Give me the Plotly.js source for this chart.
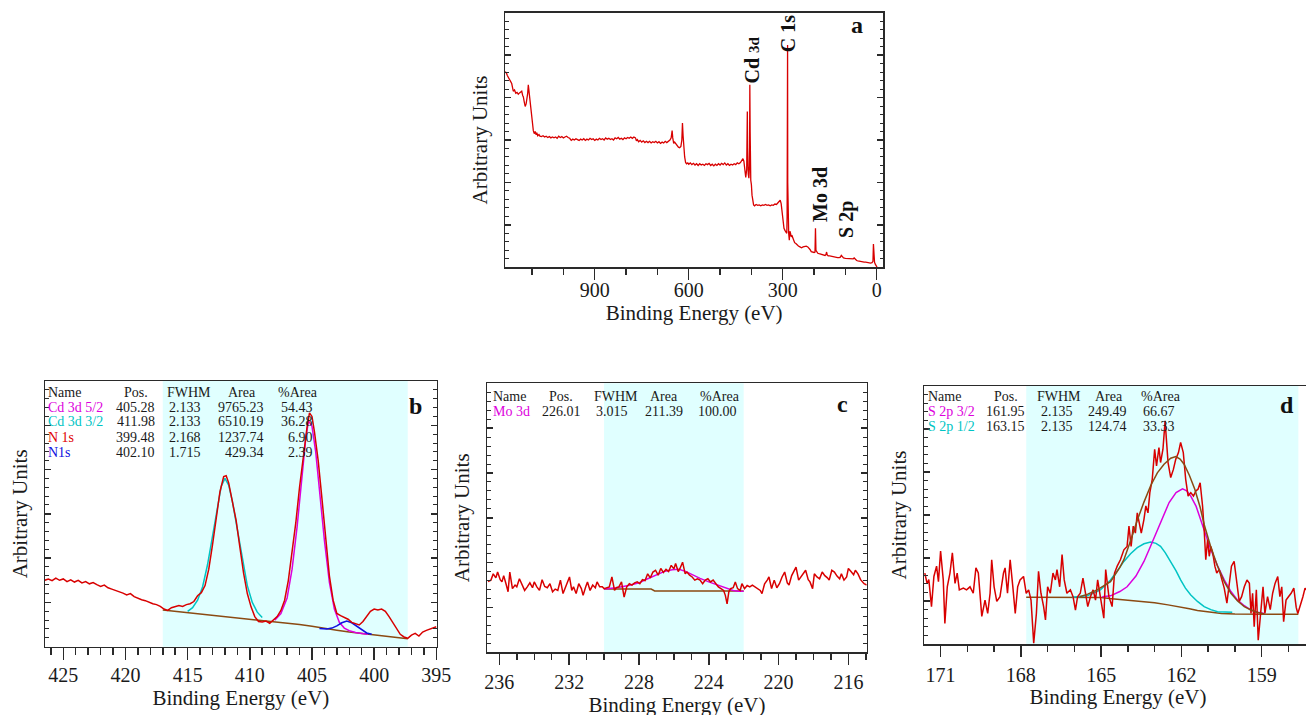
<!DOCTYPE html>
<html>
<head>
<meta charset="utf-8">
<script src="https://cdn.plot.ly/plotly-3.0.1.min.js"></script>
<style>
html,body{margin:0;padding:0;overflow:hidden;background:#fff;width:1306px;height:715px;}
#chart{width:1320px;height:730px;}
</style>
</head>
<body>
<div id="chart"></div>
<script>
// ---------------- DATA ----------------
// (a) survey spectrum
const surveyEnergy = [1186,1182,1179,1175,1170,1165,1160,1156,1152,1148,1144,1140,1136,1133,1130,1128,1125,1122,1119,1117,1114,1112,1110,1107,1104,1101,1098,1096,1093,1090,1087,1085,1082,1078,1075,1070,1065,1060,1055,1050,1045,1040,1035,1030,1025,1020,1015,1010,1005,1000,995,990,985,980,975,970,965,960,955,950,945,940,935,930,925,920,915,910,905,900,895,890,885,880,875,870,865,860,855,850,845,840,835,830,825,820,815,810,805,800,795,790,785,780,775,770,767,764,760,755,750,745,740,735,730,725,720,715,710,705,700,695,690,685,680,675,670,665,660,656,653,651,648,645,641,637,633,629,625,622,620,618,616,613,610,607,603,600,595,590,585,580,575,570,565,560,555,550,545,540,535,530,525,520,515,510,505,500,495,490,485,480,475,470,465,460,455,450,445,440,435,431,427,424,421,418,415,414,413,412,410,408,406,405,404,402,400,398,396,393,390,385,380,375,370,365,360,355,350,345,340,335,330,325,320,315,311,308,305,302,299,296,293,290,287,286,285,284.5,284,283,281,279,277,275,273,270,266,262,258,254,250,245,240,235,230,225,220,216,213,209,205,200,197,195.5,194,192,188,184,180,175,170,165,162,160,158,155,150,145,140,135,130,125,120,116,113,110,106,100,95,90,85,80,75,72,68,64,60,55,50,45,40,35,30,25,20,15,12,10.5,9,7,5,3,1,-1];
const surveyCounts = [4.61,4.58,4.52,4.48,4.40,4.33,4.15,4.18,4.10,4.12,4.08,4.11,4.13,4.15,4.05,4.02,3.90,3.79,3.85,3.94,4.10,4.30,4.15,4.03,3.80,3.55,3.30,3.22,3.15,3.20,3.12,3.17,3.10,3.13,3.09,3.08,3.10,3.07,3.09,3.06,3.08,3.05,3.07,3.05,3.07,3.04,3.09,3.06,3.08,3.05,3.07,3.09,3.06,3.04,2.99,3.02,3.00,3.03,3.01,2.99,3.02,3.00,3.03,2.99,3.02,3.00,3.04,3.01,3.03,2.99,3.02,3.00,3.04,3.01,3.03,3.00,3.05,3.02,3.04,3.01,3.03,3.00,3.05,3.03,3.06,3.02,3.04,3.01,3.05,3.03,3.06,3.04,3.07,3.04,3.07,3.05,2.98,3.01,2.96,2.99,2.95,2.98,2.94,2.97,2.94,2.97,2.93,2.96,2.94,2.97,2.93,2.96,2.92,2.95,2.93,2.97,2.94,2.97,3.00,3.05,3.22,3.05,2.92,2.95,2.90,2.86,2.83,2.82,2.85,3.00,3.40,3.10,2.80,2.60,2.47,2.44,2.46,2.43,2.46,2.42,2.45,2.41,2.44,2.40,2.44,2.41,2.43,2.40,2.44,2.42,2.45,2.40,2.43,2.39,2.43,2.40,2.44,2.41,2.45,2.42,2.46,2.41,2.44,2.40,2.43,2.41,2.44,2.42,2.46,2.44,2.47,2.52,2.56,2.50,2.30,2.12,2.30,3.00,3.67,2.80,2.20,2.10,2.40,4.30,3.20,2.05,1.95,1.70,1.55,1.47,1.45,1.48,1.46,1.47,1.45,1.47,1.46,1.48,1.46,1.47,1.45,1.47,1.46,1.49,1.48,1.52,1.56,1.58,1.50,1.30,1.05,0.92,0.87,0.82,0.80,1.20,2.37,5.24,2.00,1.00,0.80,0.64,0.85,0.80,0.72,0.74,0.65,0.58,0.56,0.52,0.50,0.48,0.46,0.48,0.49,0.50,0.48,0.45,0.42,0.37,0.36,0.35,0.36,0.92,0.40,0.36,0.33,0.32,0.31,0.30,0.29,0.28,0.30,0.36,0.29,0.27,0.27,0.26,0.25,0.25,0.24,0.23,0.23,0.24,0.28,0.26,0.22,0.21,0.21,0.20,0.20,0.20,0.20,0.22,0.18,0.16,0.15,0.14,0.13,0.13,0.12,0.12,0.11,0.11,0.10,0.11,0.14,0.55,0.25,0.12,0.08,0.05,0.02,0.00];
const surveyPeakNames = ['Cd <span style="font-size:15px">3d</span>','C 1s','Mo 3d','S 2p'];
const surveyPeakEnergy = [399, 282, 179, 96];
const surveyPeakLevel = [4.89, 5.50, 1.72, 1.13];

// (b) Cd 3d / N 1s region
const cdEnergy = [426.5,426.2,425.9,425.6,425.3,425.0,424.7,424.4,424.1,423.8,423.5,423.2,422.9,422.6,422.3,422.0,421.7,421.4,421.1,420.8,420.5,420.2,419.9,419.6,419.3,419.0,418.7,418.4,418.1,417.8,417.5,417.2,416.9,416.6,416.3,416.0,415.7,415.4,415.1,414.8,414.5,414.2,413.9,413.6,413.3,413.0,412.7,412.4,412.1,411.9,411.7,411.4,411.1,410.8,410.5,410.2,409.9,409.6,409.3,409.0,408.7,408.4,408.1,407.8,407.5,407.2,406.9,406.6,406.3,406.0,405.7,405.4,405.2,405.0,404.8,404.5,404.2,403.9,403.6,403.3,403.0,402.7,402.4,402.1,401.8,401.5,401.2,400.9,400.6,400.3,400.0,399.7,399.4,399.1,398.8,398.5,398.2,397.9,397.6,397.3,397.0,396.7,396.4,396.1,395.8,395.5,395.2,395.0];
const cdCounts = [1.50,1.53,1.49,1.55,1.50,1.53,1.47,1.51,1.46,1.50,1.44,1.47,1.42,1.45,1.40,1.36,1.39,1.33,1.30,1.27,1.25,1.21,1.17,1.20,1.13,1.09,1.06,1.04,1.00,0.97,0.95,0.91,0.85,0.82,0.88,0.90,0.93,0.91,0.95,0.97,1.02,1.15,1.22,1.38,1.75,2.30,2.95,3.50,3.84,3.86,3.70,3.30,2.85,2.25,1.66,1.20,0.90,0.68,0.57,0.56,0.58,0.53,0.60,0.68,0.82,1.05,1.50,2.10,2.80,3.60,4.30,4.95,5.28,5.20,4.85,4.20,3.35,2.50,1.60,1.05,0.75,0.70,0.66,0.62,0.55,0.52,0.49,0.57,0.68,0.80,0.85,0.83,0.85,0.80,0.68,0.55,0.40,0.28,0.22,0.19,0.26,0.30,0.24,0.33,0.37,0.40,0.44,0.45];
const cdBgEnergy = [417,416,415,414,413,412,411,410,409,408,407,406,405,404,403,402,401,400,399,398,397.3];
const cdBgCounts = [0.83,0.80,0.77,0.74,0.71,0.68,0.65,0.62,0.59,0.57,0.54,0.50,0.46,0.41,0.37,0.33,0.30,0.27,0.24,0.20,0.18];
const cd32Energy = [415.0,414.6,414.2,413.8,413.4,413.0,412.6,412.3,412.0,411.7,411.4,411.0,410.6,410.2,409.8,409.4,409.0];
const cd32Counts = [0.80,0.88,1.05,1.35,1.85,2.50,3.20,3.62,3.80,3.65,3.28,2.62,1.95,1.38,1.00,0.78,0.66];
const cd52Energy = [408.0,407.5,407.0,406.6,406.2,405.8,405.5,405.28,405.0,404.7,404.4,404.0,403.6,403.2,402.8,402.4,402.0,401.5,401.0,400.5];
const cd52Counts = [0.60,0.75,1.10,1.75,2.70,3.85,4.70,5.10,4.98,4.40,3.55,2.40,1.45,0.85,0.55,0.42,0.36,0.32,0.30,0.28];
const n1sEnergy = [404.4,403.8,403.4,403.0,402.6,402.2,401.8,401.4,401.0,400.6,400.2];
const n1sCounts = [0.41,0.40,0.42,0.47,0.54,0.58,0.54,0.46,0.37,0.31,0.28];
const cdRegion = [417.0, 397.3];
const cdNames = ['Cd 3d 5/2','Cd 3d 3/2','N 1s','N1s'];
const cdNameColors = ['#dd00dd','#00c4c4','#e00000','#1010e0'];
const cdPos = ['405.28','411.98','399.48','402.10'];
const cdFwhm = ['2.133','2.133','2.168','1.715'];
const cdArea = ['9765.23','6510.19','1237.74','429.34'];
const cdPct = ['54.43','36.28','6.90','2.39'];

// (c) Mo 3d region
const moEnergy = [236.65,236.48,236.35,236.20,236.10,235.95,235.85,235.75,235.62,235.50,235.40,235.25,235.10,235.00,234.85,234.70,234.55,234.40,234.25,234.10,234.00,233.85,233.70,233.55,233.40,233.25,233.10,232.95,232.80,232.65,232.50,232.35,232.20,232.10,231.98,231.85,231.75,231.60,231.45,231.30,231.20,231.05,230.95,230.80,230.65,230.50,230.40,230.25,230.10,230.00,229.85,229.70,229.55,229.40,229.30,229.15,229.00,228.85,228.70,228.55,228.40,228.25,228.10,227.95,227.80,227.65,227.50,227.35,227.20,227.05,226.90,226.75,226.60,226.45,226.30,226.15,226.00,225.90,225.75,225.65,225.50,225.35,225.25,225.10,224.95,224.80,224.65,224.50,224.35,224.20,224.05,223.90,223.75,223.60,223.45,223.30,223.15,223.05,222.95,222.85,222.75,222.60,222.48,222.35,222.20,222.10,221.95,221.80,221.65,221.50,221.35,221.20,221.05,220.95,220.80,220.65,220.55,220.40,220.25,220.10,219.95,219.80,219.65,219.50,219.40,219.25,219.10,219.00,218.85,218.70,218.60,218.45,218.30,218.20,218.05,217.95,217.80,217.65,217.50,217.35,217.20,217.10,216.95,216.80,216.65,216.50,216.40,216.25,216.10,216.00,215.85,215.70,215.60,215.45,215.30,215.20,215.10,214.95];
const moCounts = [1.58,1.61,1.75,1.66,1.79,1.62,1.57,1.71,1.53,1.35,1.79,1.42,1.50,1.46,1.64,1.52,1.38,1.46,1.55,1.44,1.57,1.46,1.38,1.62,1.47,1.44,1.53,1.35,1.41,1.38,1.61,1.31,1.45,1.53,1.68,1.38,1.46,1.31,1.53,1.42,1.27,1.46,1.57,1.38,1.50,1.44,1.57,1.46,1.46,1.42,1.44,1.46,1.68,1.38,1.44,1.46,1.57,1.23,1.46,1.53,1.50,1.55,1.57,1.53,1.62,1.60,1.75,1.66,1.79,1.83,1.72,1.87,1.78,1.85,1.80,1.94,1.86,1.98,1.80,1.87,2.01,1.75,1.79,1.72,1.68,1.61,1.64,1.61,1.53,1.61,1.64,1.57,1.61,1.53,1.46,1.42,1.38,1.27,1.08,1.35,1.42,1.44,1.57,1.42,1.38,1.53,1.42,1.49,1.46,1.50,1.46,1.42,1.38,1.31,1.53,1.61,1.68,1.42,1.61,1.44,1.53,1.68,1.79,1.55,1.50,1.71,1.83,1.90,1.61,1.70,1.75,1.83,1.62,1.57,1.42,1.75,1.68,1.64,1.79,1.71,1.66,1.61,1.83,1.79,1.70,1.64,1.75,1.61,1.68,1.87,1.80,1.73,1.83,1.75,1.62,1.57,1.53,1.50];
const moFitEnergy = [230.0,229.3,228.6,228.0,227.5,227.0,226.5,226.1,225.7,225.3,224.9,224.5,224.0,223.5,223.0,222.6,222.3,222.0];
const moFitCounts = [1.41,1.44,1.49,1.55,1.64,1.72,1.81,1.84,1.85,1.80,1.72,1.65,1.57,1.50,1.42,1.38,1.36,1.36];
const moBgEnergy = [230.0,229.0,228.0,227.3,227.1,226.0,224.0,222.0];
const moBgCounts = [1.41,1.41,1.41,1.41,1.37,1.37,1.37,1.37];
const moRegion = [230.0, 222.0];
const moNames = ['Mo 3d'];
const moNameColors = ['#dd00dd'];
const moPos = ['226.01'];
const moFwhm = ['3.015'];
const moArea = ['211.39'];
const moPct = ['100.00'];

// (d) S 2p region
const sEnergy = [171.59,171.50,171.44,171.34,171.25,171.15,171.08,171.00,170.90,170.84,170.75,170.65,170.56,170.46,170.38,170.30,170.15,170.03,169.90,169.78,169.68,169.59,169.46,169.34,169.24,169.15,169.09,169.00,168.90,168.78,168.65,168.59,168.50,168.40,168.30,168.21,168.12,168.03,167.90,167.80,167.71,167.62,167.52,167.42,167.34,167.25,167.15,167.08,167.00,166.90,166.80,166.71,166.65,166.55,166.46,166.38,166.28,166.15,166.05,165.96,165.88,165.78,165.68,165.59,165.50,165.40,165.30,165.21,165.13,165.03,164.90,164.83,164.71,164.59,164.50,164.40,164.28,164.15,164.03,163.96,163.88,163.80,163.72,163.65,163.58,163.50,163.40,163.33,163.25,163.18,163.09,163.00,162.93,162.84,162.78,162.69,162.61,162.56,162.50,162.40,162.30,162.21,162.11,162.03,161.93,161.84,161.75,161.65,161.55,161.46,161.38,161.30,161.21,161.15,161.09,161.02,160.96,160.90,160.83,160.75,160.68,160.59,160.50,160.40,160.30,160.21,160.13,160.03,159.93,159.84,159.75,159.65,159.55,159.46,159.40,159.34,159.28,159.20,159.13,159.03,158.95,158.88,158.78,158.68,158.59,158.50,158.40,158.32,158.25,158.18,158.09,158.00,157.90,157.80,157.71,157.65,157.55,157.46,157.38,157.25,157.12];
const sCounts = [1.65,1.40,1.50,0.87,1.57,1.81,1.45,2.16,1.49,0.48,1.33,1.65,2.12,1.41,1.65,1.26,1.30,1.26,1.33,1.18,1.77,1.65,0.64,1.02,0.71,1.18,1.96,1.33,0.99,1.10,1.65,1.77,1.18,1.96,1.33,0.71,1.33,1.49,1.57,1.18,1.26,1.02,0.02,0.71,1.69,1.18,0.87,0.56,1.33,1.18,1.65,1.49,1.73,1.33,2.08,1.49,1.18,1.26,1.10,0.79,1.10,1.18,1.53,1.18,0.87,1.10,1.26,1.02,1.49,1.10,0.60,1.73,1.10,0.87,1.65,1.81,1.96,2.19,2.27,2.74,2.27,2.74,2.58,3.05,2.82,2.58,2.90,3.21,3.05,3.52,3.83,4.53,4.14,4.57,4.22,4.53,5.19,4.77,4.22,3.87,4.06,4.30,4.45,4.69,4.45,3.83,3.44,3.52,3.44,3.56,3.60,3.75,3.21,2.66,1.96,2.43,2.04,2.27,2.12,1.81,1.65,1.73,1.49,1.30,0.95,1.49,1.81,1.92,1.41,0.99,1.10,1.33,1.49,1.41,0.71,1.18,0.40,1.26,0.09,0.87,1.33,0.71,1.10,0.80,1.18,1.41,1.57,1.10,1.33,0.52,1.02,1.10,1.18,1.30,0.85,0.71,0.90,1.10,1.30,1.20,1.25];
const sBgEnergy = [167.8,166.0,165.0,164.6,164.0,163.5,163.0,162.5,162.1,161.7,161.4,161.0,160.5,160.0,159.0,158.0,157.63];
const sBgCounts = [1.09,1.09,1.08,1.05,1.02,0.99,0.96,0.91,0.87,0.82,0.78,0.75,0.71,0.70,0.69,0.69,0.69];
const sEnvEnergy = [165.8,165.5,165.15,164.9,164.65,164.3,164.15,163.9,163.65,163.4,163.15,162.9,162.65,162.4,162.21,162.05,161.9,161.7,161.5,161.3,161.15,160.9,160.65,160.4,160.15,159.9,159.65,159.4,159.15,158.9];
const sEnvCounts = [1.10,1.16,1.26,1.36,1.45,1.78,1.96,2.40,2.88,3.30,3.68,3.98,4.18,4.32,4.36,4.30,4.18,3.92,3.60,3.18,2.78,2.25,1.81,1.45,1.18,1.00,0.87,0.79,0.73,0.70];
const s32Energy = [164.96,164.65,164.3,164.03,163.7,163.4,163.15,162.9,162.65,162.46,162.2,161.96,161.8,161.65,161.45,161.28,161.1,160.9,160.65,160.4,160.15,159.9,159.65,159.4,159.15,158.9];
const s32Counts = [1.10,1.12,1.22,1.33,1.58,1.92,2.28,2.66,3.02,3.29,3.52,3.61,3.56,3.44,3.20,2.90,2.55,2.19,1.82,1.49,1.22,1.02,0.89,0.79,0.74,0.71];
const s12Energy = [166.09,165.8,165.53,165.3,165.03,164.85,164.65,164.4,164.15,163.9,163.65,163.4,163.15,162.95,162.78,162.6,162.4,162.2,162.03,161.85,161.65,161.4,161.15,160.9,160.65,160.4,160.1];
const s12Counts = [1.09,1.10,1.12,1.18,1.26,1.36,1.49,1.70,1.92,2.10,2.24,2.33,2.37,2.34,2.27,2.12,1.92,1.70,1.49,1.30,1.14,0.99,0.87,0.80,0.75,0.74,0.74];
const sRegion = [167.8, 157.63];
const sNames = ['S 2p 3/2','S 2p 1/2'];
const sNameColors = ['#dd00dd','#00c4c4'];
const sPos = ['161.95','163.15'];
const sFwhm = ['2.135','2.135'];
const sArea = ['249.49','124.74'];
const sPct = ['66.67','33.33'];

const tableHeader = ['Name','Pos.','FWHM','Area','%Area'];

// ---------------- STYLE / LAYOUT ----------------
const W = 1320, H = 730;
const SERIF = 'Liberation Serif, Times New Roman, serif';
const INK = '#1a1a1a';
const AX = '#2a2a2a';
const RED = '#d80000', MAG = '#dd00dd', CYAN = '#00c4c4', BROWN = '#8b4a12', BLUE = '#1010e0';
const SHADE = '#e0ffff';
const fx = p => p / W;
const fy = p => 1 - p / H;

// main x axis: line, tick labels, title (tick marks drawn by the overlay axis)
function xAxis(dom, anchor, range, dtick, labelGap, titleGap) {
  return {
    domain: [fx(dom[0]), fx(dom[1])], anchor: anchor, range: range,
    tickmode: 'linear', tick0: 0, dtick: dtick,
    showline: true, linecolor: AX, linewidth: 1.5, mirror: true,
    ticks: '', ticklabelstandoff: labelGap,
    showgrid: false, zeroline: false,
    tickfont: {family: SERIF, size: 20, color: INK},
    title: {text: 'Binding Energy (eV)', font: {family: SERIF, size: 21, color: INK}, standoff: titleGap}
  };
}
// overlay x axis: major + minor tick marks only
function xTicks(over, anchor, range, dtick, minorDtick) {
  return {
    overlaying: over, anchor: anchor, range: range,
    tickmode: 'linear', tick0: 0, dtick: dtick,
    showline: false, showticklabels: false, showgrid: false, zeroline: false,
    ticks: 'outside', ticklen: 12, tickwidth: 1.5, tickcolor: AX,
    minor: {tickmode: 'linear', tick0: 0, dtick: minorDtick, ticks: 'outside', ticklen: 7, tickwidth: 1.5, tickcolor: AX, showgrid: false}
  };
}
function yAxis(dom, anchor, standoff) {
  return {
    domain: [fy(dom[1]), fy(dom[0])], anchor: anchor, range: [0, 6],
    tickmode: 'linear', tick0: 0, dtick: 1,
    showline: true, linecolor: AX, linewidth: 1.5, mirror: 'ticks',
    ticks: 'inside', ticklen: 6, tickwidth: 1.5, tickcolor: AX,
    minor: {tickmode: 'linear', tick0: 0, dtick: 0.2, ticks: 'inside', ticklen: 3.5, tickwidth: 1, tickcolor: AX, showgrid: false},
    showticklabels: false, showgrid: false, zeroline: false,
    title: {text: 'Arbitrary Units', font: {family: SERIF, size: 21, color: INK}, standoff: standoff}
  };
}

function line(x, y, xa, ya, color, width) {
  return {x: x, y: y, xaxis: xa, yaxis: ya, type: 'scatter', mode: 'lines',
          line: {color: color, width: width || 1.5}, hoverinfo: 'skip', showlegend: false};
}
function holder(xa, ya) {
  return {x: [], y: [], xaxis: xa, yaxis: ya, type: 'scatter', mode: 'lines', hoverinfo: 'skip', showlegend: false};
}

const data = [
  line(surveyEnergy, surveyCounts, 'x', 'y', RED, 1.3),
  line(cdBgEnergy, cdBgCounts, 'x2', 'y2', BROWN),
  line(cd32Energy, cd32Counts, 'x2', 'y2', CYAN),
  line(cd52Energy, cd52Counts, 'x2', 'y2', MAG),
  line(n1sEnergy, n1sCounts, 'x2', 'y2', BLUE),
  line(cdEnergy, cdCounts, 'x2', 'y2', RED),
  line(moBgEnergy, moBgCounts, 'x3', 'y3', BROWN),
  line(moFitEnergy, moFitCounts, 'x3', 'y3', MAG),
  line(moEnergy, moCounts, 'x3', 'y3', RED),
  line(sBgEnergy, sBgCounts, 'x4', 'y4', BROWN),
  line(s12Energy, s12Counts, 'x4', 'y4', CYAN),
  line(s32Energy, s32Counts, 'x4', 'y4', MAG),
  line(sEnergy, sCounts, 'x4', 'y4', RED),
  line(sEnvEnergy, sEnvCounts, 'x4', 'y4', BROWN),
  holder('x5', 'y'), holder('x6', 'y2'), holder('x7', 'y3'), holder('x8', 'y4')
];

const annotations = [];
function txt(text, x, y, opts) {
  annotations.push(Object.assign({
    text: text, x: fx(x), y: fy(y), xref: 'paper', yref: 'paper', showarrow: false,
    font: {family: SERIF, size: 14, color: INK}, xanchor: 'left', yanchor: 'middle'
  }, opts || {}));
}
function table(c, y0, dy, names, colors, pos, fwhm, area, pct) {
  txt(tableHeader[0], c.name, y0);
  txt(tableHeader[1], c.posH, y0, {xanchor: 'center'});
  txt(tableHeader[2], c.fwhmH, y0, {xanchor: 'center'});
  txt(tableHeader[3], c.areaH, y0, {xanchor: 'center'});
  txt(tableHeader[4], c.pctH, y0, {xanchor: 'center'});
  names.forEach((n, i) => {
    const y = y0 + dy * (i + 1);
    txt(n, c.name, y, {font: {family: SERIF, size: 14, color: colors[i]}});
    txt(pos[i], c.posR, y, {xanchor: 'right'});
    txt(fwhm[i], c.fwhmR, y, {xanchor: 'right'});
    txt(area[i], c.areaR, y, {xanchor: 'right'});
    txt(pct[i], c.pctR, y, {xanchor: 'right'});
  });
}
table({name: 46, posH: 136, posR: 157, fwhmH: 189, fwhmR: 203, areaH: 242, areaR: 266, pctH: 298, pctR: 315},
      392, 15, cdNames, cdNameColors, cdPos, cdFwhm, cdArea, cdPct);
table({name: 491, posH: 561, posR: 583, fwhmH: 616, fwhmR: 630, areaH: 664, areaR: 685, pctH: 720, pctR: 739},
      396, 15.5, moNames, moNameColors, moPos, moFwhm, moArea, moPct);
table({name: 926, posH: 1006, posR: 1027, fwhmH: 1059, fwhmR: 1075, areaH: 1109, areaR: 1129, pctH: 1161, pctR: 1177},
      396.5, 15, sNames, sNameColors, sPos, sFwhm, sArea, sPct);

// panel letters
[['a', 857, 25], ['b', 416, 406], ['c', 842, 404], ['d', 1287, 405]].forEach(l =>
  txt('<b>' + l[0] + '</b>', l[1], l[2], {xanchor: 'center', font: {family: SERIF, size: 24, color: '#111'}}));

// survey peak labels (rotated)
surveyPeakNames.forEach((n, i) => annotations.push({
  text: '<b>' + n + '</b>', x: surveyPeakEnergy[i], y: surveyPeakLevel[i], xref: 'x', yref: 'y',
  showarrow: false, textangle: -90, xanchor: 'center', yanchor: 'middle',
  font: {family: SERIF, size: 20, color: '#111'}
}));

const shapes = [
  {type: 'rect', xref: 'x2', yref: 'y2 domain', x0: cdRegion[0], x1: cdRegion[1], y0: 0, y1: 1, fillcolor: SHADE, line: {width: 0}, layer: 'below'},
  {type: 'rect', xref: 'x3', yref: 'y3 domain', x0: moRegion[0], x1: moRegion[1], y0: 0, y1: 1, fillcolor: SHADE, line: {width: 0}, layer: 'below'},
  {type: 'rect', xref: 'x4', yref: 'y4 domain', x0: sRegion[0], x1: sRegion[1], y0: 0, y1: 1, fillcolor: SHADE, line: {width: 0}, layer: 'below'}
];

const rA = [1186.4, -21], rB = [426.47, 394.97], rC = [236.69, 214.95], rD = [171.62, 157.12];
const layout = {
  width: W, height: H, margin: {l: 0, r: 0, t: 0, b: 0},
  paper_bgcolor: '#ffffff', plot_bgcolor: '#ffffff', showlegend: false,
  font: {family: SERIF, color: INK},
  xaxis: xAxis([505, 883.3], 'y', rA, 300, 4, 3),
  yaxis: yAxis([12.7, 267.3], 'x', 10),
  xaxis2: xAxis([45, 436.7], 'y2', rB, 5, 10, 0),
  yaxis2: yAxis([381, 646.7], 'x2', 10),
  xaxis3: xAxis([487.3, 866.7], 'y3', rC, 4, 11, 0),
  yaxis3: yAxis([383.3, 652.3], 'x3', 10),
  xaxis4: xAxis([924, 1312], 'y4', rD, 3, 12, 0),
  yaxis4: yAxis([386, 644], 'x4', 10),
  xaxis5: xTicks('x', 'y', rA, 300, 100),
  xaxis6: xTicks('x2', 'y2', rB, 5, 1),
  xaxis7: xTicks('x3', 'y3', rC, 4, 1),
  xaxis8: xTicks('x4', 'y4', rD, 3, 1),
  annotations: annotations,
  shapes: shapes
};

Plotly.newPlot('chart', data, layout, {staticPlot: true, displayModeBar: false});
</script>
</body>
</html>
